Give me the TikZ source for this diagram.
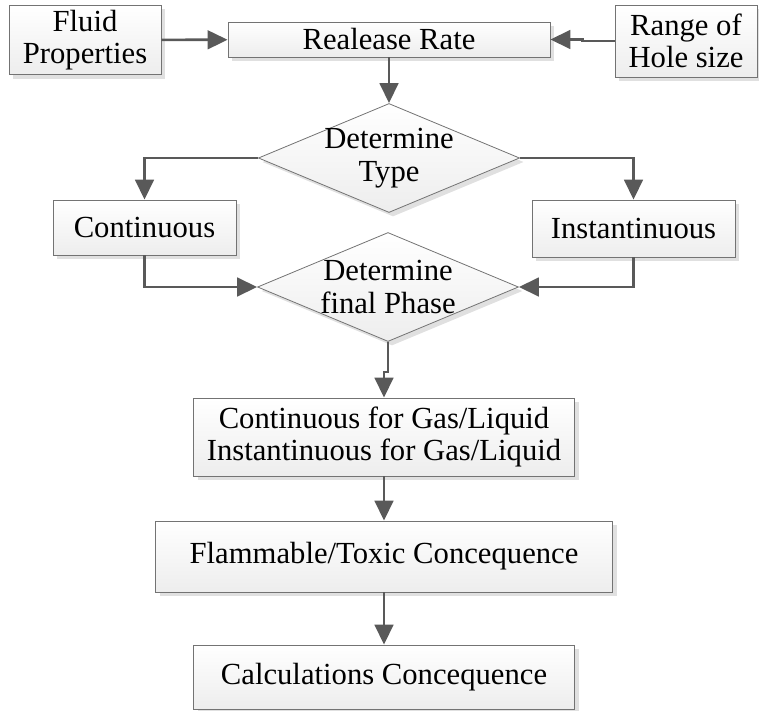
\documentclass[tikz,border=0pt]{standalone}
\usepackage{fontspec}
\setmainfont{Liberation Serif}
\usetikzlibrary{shapes.geometric,arrows.meta,shadows}

\tikzset{
	block/.style={draw=black!55, line width=0.6pt, top color=white, bottom color=black!7,
		drop shadow={shadow xshift=3pt, shadow yshift=-3pt, fill=black!12, opacity=1},
		align=center, inner sep=2pt, font=\rmfamily\fontsize{23}{24.5}\selectfont},
	decision/.style={block, diamond, shape aspect=2.4, inner xsep=-4.2pt, inner ysep=0pt,
		minimum width=195.75pt, minimum height=81.75pt},
	flow/.style={draw=black!65, line width=2pt, -{Triangle[length=15pt, width=14pt]}}
}
\tikzset{every picture/.style={line width=0.75pt}}

\begin{document}
\begin{tikzpicture}[x=0.75pt,y=0.75pt,yscale=-1,xscale=1]
	\useasboundingbox (0,0) rectangle (759,710);

	% top row
	\node[block, minimum width=114pt, minimum height=51.75pt] (fluid) at (85,40) {Fluid\\Properties};
	\node[block, minimum width=241.5pt, minimum height=26.25pt] (rate) at (389,39.5) {Realease Rate};
	\node[block, minimum width=106.5pt, minimum height=54pt] (hole) at (686,41) {Range of\\Hole size};

	% decisions and release types
	\node[decision] (type) at (389,158) {Determine\\Type};
	\node[block, minimum width=137.25pt, minimum height=41.25pt] (cont) at (144.5,227.5) {Continuous};
	\node[block, minimum width=152.25pt, minimum height=42.75pt] (inst) at (633.5,228.5) {Instantinuous};
	\node[decision] (phase) at (388,287) {Determine\\final Phase};

	% results
	\node[block, minimum width=285.75pt, minimum height=58.5pt] (gasliq) at (384,437) {Continuous for Gas/Liquid\\Instantinuous for Gas/Liquid};
	\node[block, minimum width=342.75pt, minimum height=53.25pt] (conseq) at (384,556.5) {Flammable/Toxic Concequence};
	\node[block, minimum width=285.75pt, minimum height=48pt] (calc) at (384,677) {Calculations Concequence};

	% connectors
	\draw[flow] (fluid) -- (rate);
	\draw[flow] (hole.west) -- ++(-32,0) |- (rate.east);
	\draw[flow] (rate) -- (type);
	\draw[flow] (type.west) -| (cont.north);
	\draw[flow] (type.east) -| (inst.north);
	\draw[flow] (cont.south) |- (phase.west);
	\draw[flow] (inst.south) |- (phase.east);
	\draw[flow] (phase.south) -- ++(0,30) -| (gasliq.north);
	\draw[flow] (gasliq) -- (conseq);
	\draw[flow] (conseq) -- (calc);

\end{tikzpicture}
\end{document}
